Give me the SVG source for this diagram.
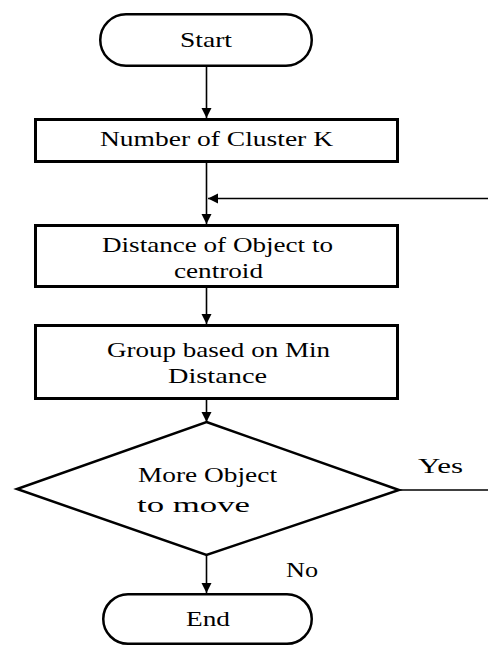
<svg xmlns="http://www.w3.org/2000/svg" width="488" height="646" viewBox="0 0 488 646" font-family="'Liberation Serif', 'DejaVu Serif', serif">
<style>
  .box { fill: #fff; stroke: #000; stroke-width: 3; }
  .term { fill: #fff; stroke: #000; stroke-width: 2.5; }
  .dia { fill: #fff; stroke: #000; stroke-width: 2.5; stroke-linejoin: miter; }
  .conn { fill: none; stroke: #000; stroke-width: 1.6; }
  text { font-family: "Liberation Serif", "DejaVu Serif", serif; font-size: 22px; fill: #000; text-anchor: middle; }
</style>
<defs>
  <marker id="arrow" markerUnits="userSpaceOnUse" markerWidth="11" markerHeight="11" refX="10" refY="5.5" orient="auto">
    <path d="M0,0.5 L10,5.5 L0,10.5 z" fill="#000"/>
  </marker>
</defs>
<rect width="488" height="646" fill="#fff"/>
<g id="connectors">
  <line class="conn" x1="206.5" y1="67" x2="206.5" y2="118" marker-end="url(#arrow)"/>
  <line class="conn" x1="206.5" y1="163" x2="206.5" y2="224" marker-end="url(#arrow)"/>
  <line class="conn" x1="206.5" y1="288" x2="206.5" y2="324" marker-end="url(#arrow)"/>
  <line class="conn" x1="206.5" y1="400" x2="206.5" y2="422" marker-end="url(#arrow)"/>
  <line class="conn" x1="206.5" y1="555" x2="206.5" y2="593" marker-end="url(#arrow)"/>
  <line class="conn" x1="488" y1="198.5" x2="208" y2="198.5" marker-end="url(#arrow)"/>
  <line class="conn" x1="399" y1="490" x2="488" y2="490"/>
  <text x="440.5" y="473" textLength="45" lengthAdjust="spacingAndGlyphs">Yes</text>
  <text x="302" y="577" textLength="32" lengthAdjust="spacingAndGlyphs">No</text>
</g>
<g id="start">
  <rect class="term" x="100.25" y="14.25" width="211.5" height="51.5" rx="25.75" ry="25.75"/>
  <text x="206" y="47" textLength="52" lengthAdjust="spacingAndGlyphs">Start</text>
</g>
<g id="num-cluster">
  <rect class="box" x="35.5" y="119.5" width="362" height="42"/>
  <text x="216.5" y="146" textLength="233" lengthAdjust="spacingAndGlyphs">Number of Cluster K</text>
</g>
<g id="distance">
  <rect class="box" x="35.5" y="225.5" width="362" height="61"/>
  <text x="217.5" y="252" textLength="231" lengthAdjust="spacingAndGlyphs">Distance of Object to</text>
  <text x="218.5" y="278" textLength="89" lengthAdjust="spacingAndGlyphs">centroid</text>
</g>
<g id="group">
  <rect class="box" x="35.5" y="325.5" width="362" height="73"/>
  <text x="218.5" y="357" textLength="223" lengthAdjust="spacingAndGlyphs">Group based on Min</text>
  <text x="217.5" y="383" textLength="99" lengthAdjust="spacingAndGlyphs">Distance</text>
</g>
<g id="decision">
  <polygon class="dia" points="206.5,422 399,490 206.5,555 17,489"/>
  <text x="207.5" y="482" textLength="139" lengthAdjust="spacingAndGlyphs">More Object</text>
  <text x="193.5" y="512" textLength="113" lengthAdjust="spacingAndGlyphs">to move</text>
</g>
<g id="end">
  <rect class="term" x="103.25" y="594.25" width="208.5" height="49.5" rx="24.75" ry="24.75"/>
  <text x="208" y="626" textLength="44" lengthAdjust="spacingAndGlyphs">End</text>
</g>
</svg>
